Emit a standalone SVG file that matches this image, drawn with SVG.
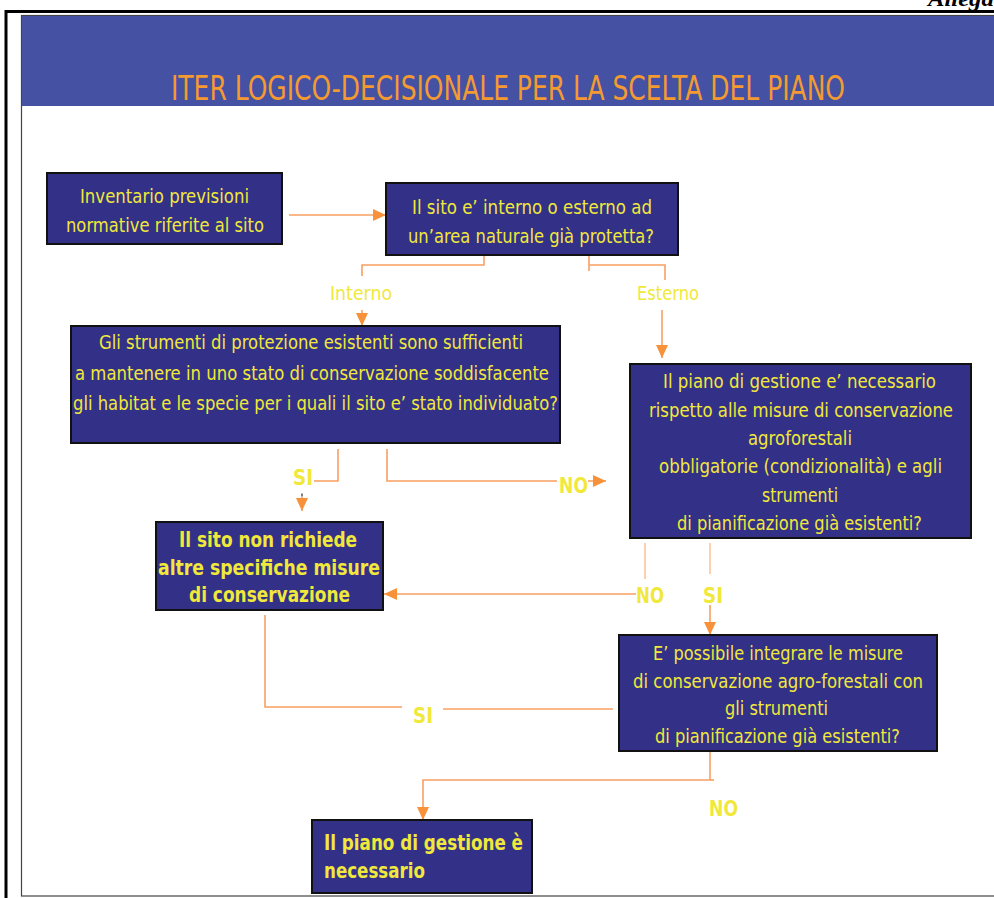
<svg xmlns="http://www.w3.org/2000/svg" width="994" height="898" viewBox="0 0 994 898">
<style>
.node{fill:#333088;stroke:#111;stroke-width:2}
.t{font-family:"DejaVu Sans","Liberation Sans",sans-serif;font-size:19.5px;fill:#F0E83A}
.b{font-family:"DejaVu Sans","Liberation Sans",sans-serif;font-size:22px;font-weight:bold;fill:#F0E83A}
.lbl{font-family:"DejaVu Sans","Liberation Sans",sans-serif;font-size:22px;font-weight:bold;fill:#F0E83A}
.c{fill:none;stroke:#F8A063;stroke-width:1.6}
.cl{fill:none;stroke:#FBC49C;stroke-width:1.6}
</style>
<defs>
<marker id="ah" markerUnits="userSpaceOnUse" markerWidth="13" markerHeight="12" refX="13" refY="6" orient="auto">
<path d="M0,0 L13,6 L0,12 z" fill="#F7923A"/>
</marker>
</defs>
<rect width="994" height="898" fill="#fff"/>
<g id="frame">
<text x="928" y="6" font-family="Liberation Serif,serif" font-size="20" font-weight="bold" font-style="italic" fill="#000" textLength="85" lengthAdjust="spacingAndGlyphs">Allegato</text>
<path d="M6,898 V11.5 H994" fill="none" stroke="#000" stroke-width="3"/>
<rect x="21.5" y="15.5" width="990" height="880.5" fill="none" stroke="#444" stroke-width="1.2"/>
<rect x="22" y="16" width="972" height="90" fill="#4551A3"/>
<text x="171" y="100" font-family="DejaVu Sans,Liberation Sans,sans-serif" font-size="33" fill="#F49A30" textLength="674" lengthAdjust="spacingAndGlyphs">ITER LOGICO-DECISIONALE PER LA SCELTA DEL PIANO</text>
</g>
<g id="connectors">
<line class="c" x1="289" y1="215" x2="386" y2="215" marker-end="url(#ah)"/>
<polyline class="c" points="484,256 484,265 362,265 362,276"/>
<line class="c" x1="589" y1="256" x2="589" y2="271"/>
<polyline class="c" points="589,265 665,265 665,280"/>
<line class="c" x1="362" y1="310" x2="362" y2="326" marker-end="url(#ah)"/>
<line class="c" x1="662" y1="310" x2="662" y2="358" marker-end="url(#ah)"/>
<polyline class="c" points="338,449 338,481 314,481"/>
<line x1="302" y1="493.5" x2="302" y2="496.5" stroke="#000" stroke-width="1"/>
<line class="c" x1="302" y1="497" x2="302" y2="511" marker-end="url(#ah)"/>
<polyline class="c" points="387,449 387,481 557,481"/>
<line class="c" x1="588" y1="481" x2="606" y2="481" marker-end="url(#ah)"/>
<line class="cl" x1="645" y1="543" x2="645" y2="579"/>
<line class="c" x1="636" y1="594" x2="384" y2="594" marker-end="url(#ah)"/>
<line class="cl" x1="710" y1="543" x2="710" y2="574"/>
<line class="c" x1="710" y1="605" x2="710" y2="635" marker-end="url(#ah)"/>
<polyline class="c" points="265,615 265,707 402,707"/>
<line class="c" x1="443" y1="709" x2="613" y2="709"/>
<polyline class="c" points="710,752 710,780 423,780 423,820" marker-end="url(#ah)"/>
<line class="c" x1="710" y1="780" x2="714" y2="780"/>
<text class="t" x="330" y="300" textLength="62" lengthAdjust="spacingAndGlyphs">Interno</text>
<text class="t" x="637" y="300" textLength="62" lengthAdjust="spacingAndGlyphs">Esterno</text>
<text class="lbl" x="293" y="485" textLength="20" lengthAdjust="spacingAndGlyphs">SI</text>
<text class="lbl" x="559" y="493" textLength="29" lengthAdjust="spacingAndGlyphs">NO</text>
<text class="lbl" x="636" y="603" textLength="28" lengthAdjust="spacingAndGlyphs">NO</text>
<text class="lbl" x="703" y="603" textLength="20" lengthAdjust="spacingAndGlyphs">SI</text>
<text class="lbl" x="413" y="723" textLength="20" lengthAdjust="spacingAndGlyphs">SI</text>
<text class="lbl" x="709" y="816" textLength="29" lengthAdjust="spacingAndGlyphs">NO</text>
</g>
<g id="n1">
<rect class="node" x="47" y="173" width="235" height="71"/>
<text class="t" x="80" y="203" textLength="169" lengthAdjust="spacingAndGlyphs">Inventario previsioni</text>
<text class="t" x="66" y="232" textLength="198" lengthAdjust="spacingAndGlyphs">normative riferite al sito</text>
</g>
<g id="n2">
<rect class="node" x="386" y="183" width="292" height="72"/>
<text class="t" x="412" y="214" textLength="240" lengthAdjust="spacingAndGlyphs">Il sito e’ interno o esterno ad</text>
<text class="t" x="408" y="243" textLength="246" lengthAdjust="spacingAndGlyphs">un’area naturale già protetta?</text>
</g>
<g id="n3">
<rect class="node" x="71" y="326" width="489" height="117"/>
<text class="t" x="99" y="349" textLength="424" lengthAdjust="spacingAndGlyphs">Gli strumenti di protezione esistenti sono sufficienti</text>
<text class="t" x="75" y="380" textLength="474" lengthAdjust="spacingAndGlyphs">a mantenere in uno stato di conservazione soddisfacente</text>
<text class="t" x="73" y="410" textLength="485" lengthAdjust="spacingAndGlyphs">gli habitat e le specie per i quali il sito e’ stato individuato?</text>
</g>
<g id="n4">
<rect class="node" x="630" y="364" width="341" height="174"/>
<text class="t" x="663" y="388" textLength="273" lengthAdjust="spacingAndGlyphs">Il piano di gestione e’ necessario</text>
<text class="t" x="649" y="417" textLength="304" lengthAdjust="spacingAndGlyphs">rispetto alle misure di conservazione</text>
<text class="t" x="748" y="445" textLength="104" lengthAdjust="spacingAndGlyphs">agroforestali</text>
<text class="t" x="659" y="473" textLength="283" lengthAdjust="spacingAndGlyphs">obbligatorie (condizionalità) e agli</text>
<text class="t" x="762" y="502" textLength="76" lengthAdjust="spacingAndGlyphs">strumenti</text>
<text class="t" x="677" y="530" textLength="245" lengthAdjust="spacingAndGlyphs">di pianificazione già esistenti?</text>
</g>
<g id="n5">
<rect class="node" x="156" y="522" width="227" height="88"/>
<text class="b" x="179" y="547" textLength="178" lengthAdjust="spacingAndGlyphs">Il sito non richiede</text>
<text class="b" x="158" y="575" textLength="222" lengthAdjust="spacingAndGlyphs">altre specifiche  misure</text>
<text class="b" x="189" y="602" textLength="161" lengthAdjust="spacingAndGlyphs">di conservazione</text>
</g>
<g id="n6">
<rect class="node" x="619" y="635" width="318" height="116"/>
<text class="t" x="653" y="660" textLength="250" lengthAdjust="spacingAndGlyphs">E’ possibile integrare le misure</text>
<text class="t" x="633" y="688" textLength="290" lengthAdjust="spacingAndGlyphs">di conservazione agro-forestali con</text>
<text class="t" x="725" y="715" textLength="103" lengthAdjust="spacingAndGlyphs">gli strumenti</text>
<text class="t" x="655" y="743" textLength="245" lengthAdjust="spacingAndGlyphs">di pianificazione già esistenti?</text>
</g>
<g id="n7">
<rect class="node" x="312" y="820" width="220" height="73"/>
<text class="b" x="324" y="850" textLength="199" lengthAdjust="spacingAndGlyphs">Il piano di gestione è</text>
<text class="b" x="324" y="878" textLength="101" lengthAdjust="spacingAndGlyphs">necessario</text>
</g>
</svg>
